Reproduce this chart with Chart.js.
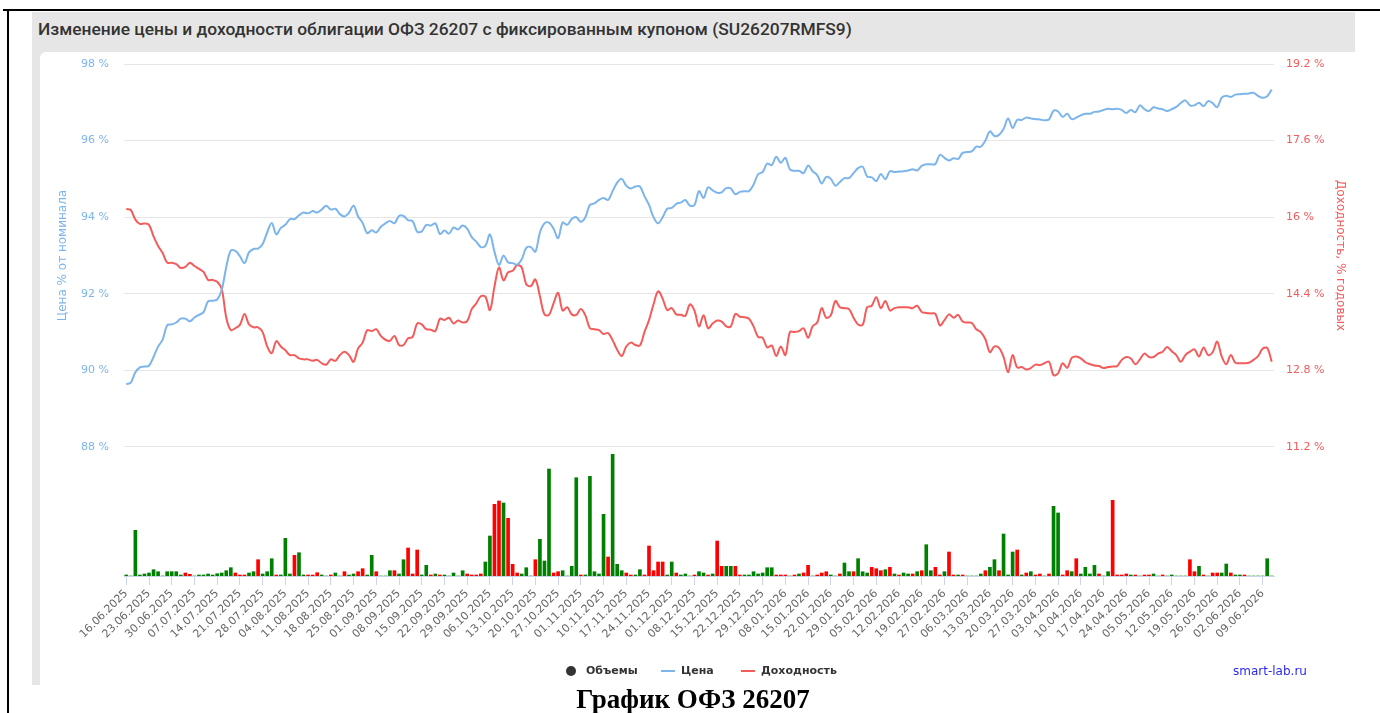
<!DOCTYPE html>
<html>
<head>
<meta charset="utf-8">
<script src="https://cdn.jsdelivr.net/npm/chart.js@4.4.1/dist/chart.umd.min.js"></script>
<style>
html,body{margin:0;padding:0;background:#fff;}
body{width:1380px;height:713px;overflow:hidden;position:relative;font-family:'DejaVu Sans',sans-serif;}
.abs{position:absolute;}
#bt{left:3px;top:9px;width:1377px;height:2px;background:#000;}
#bl{left:7px;top:9px;width:2px;height:704px;background:#000;}
#panel{left:32px;top:12px;width:1323px;height:673px;background:#e6e6e6;}
#title{left:38px;top:11px;height:36px;line-height:36px;font-family:Roboto,sans-serif;font-weight:500;font-size:17.4px;color:#333;white-space:nowrap;}
#white{left:40px;top:52px;width:1340px;height:633px;background:#fff;border-top-left-radius:6px;}
#wrap{left:40px;top:52px;width:1340px;height:633px;}
.lg{top:663px;font-size:11px;font-weight:bold;color:#333;line-height:16px;white-space:nowrap;}
#caption{left:0;width:1386px;top:684px;text-align:center;font-family:'Liberation Serif',serif;font-weight:bold;font-size:27px;line-height:30px;color:#000;white-space:nowrap;}
</style>
</head>
<body>
<div id="bt" class="abs"></div>
<div id="bl" class="abs"></div>
<div id="panel" class="abs"></div>
<div id="title" class="abs">Изменение цены и доходности облигации ОФЗ 26207 с фиксированным купоном (SU26207RMFS9)</div>
<div id="white" class="abs"></div>
<div id="wrap" class="abs"><canvas id="c" width="1340" height="633"></canvas></div>
<div class="abs" style="left:566px;top:666px;width:10px;height:10px;border-radius:50%;background:#333;"></div>
<div class="abs lg" style="left:586px;">Объемы</div>
<div class="abs" style="left:661px;top:670px;width:14px;height:2px;background:#7cb5ec;"></div>
<div class="abs lg" style="left:681px;">Цена</div>
<div class="abs" style="left:741px;top:670px;width:14px;height:2px;background:#f45b5b;"></div>
<div class="abs lg" style="left:761px;">Доходность</div>
<div class="abs lg" style="left:1233px;font-weight:normal;font-size:12px;color:#2a2af0;">smart-lab.ru</div>
<div id="caption" class="abs">График ОФЗ 26207</div>
<script>
// ---- data ----
const tickLabels = ['16.06.2025','23.06.2025','30.06.2025','07.07.2025','14.07.2025','21.07.2025','28.07.2025','04.08.2025','11.08.2025','18.08.2025','25.08.2025','01.09.2025','08.09.2025','15.09.2025','22.09.2025','29.09.2025','06.10.2025','13.10.2025','20.10.2025','27.10.2025','01.11.2025','10.11.2025','17.11.2025','24.11.2025','01.12.2025','08.12.2025','15.12.2025','22.12.2025','29.12.2025','08.01.2026','15.01.2026','22.01.2026','29.01.2026','05.02.2026','12.02.2026','19.02.2026','27.02.2026','06.03.2026','13.03.2026','20.03.2026','27.03.2026','03.04.2026','10.04.2026','17.04.2026','24.04.2026','05.05.2026','12.05.2026','19.05.2026','26.05.2026','02.06.2026','09.06.2026'];

const price = [
89.64,89.68,89.95,90.08,90.10,90.12,90.35,90.62,90.80,91.18,
91.20,91.25,91.35,91.35,91.28,91.38,91.45,91.52,91.80,91.82,
91.85,92.10,92.70,93.13,93.12,92.98,92.80,93.08,93.17,93.18,
93.30,93.60,93.85,93.55,93.72,93.80,93.95,93.95,94.05,94.12,
94.10,94.16,94.12,94.20,94.30,94.20,94.22,94.08,94.02,94.12,
94.30,94.02,93.85,93.58,93.66,93.60,93.75,93.84,93.90,93.84,
94.03,94.03,93.92,93.90,93.62,93.63,93.80,93.78,93.84,93.56,
93.65,93.57,93.73,93.68,93.78,93.70,93.48,93.36,93.22,93.25,
93.55,93.10,92.75,93.00,92.82,92.80,92.76,92.90,93.20,93.22,
93.10,93.60,93.84,93.86,93.70,93.45,93.86,93.80,93.95,94.00,
93.88,94.00,94.32,94.36,94.45,94.50,94.45,94.68,94.90,95.00,
94.82,94.75,94.80,94.80,94.55,94.32,94.00,93.84,94.00,94.22,
94.24,94.35,94.38,94.45,94.30,94.32,94.68,94.50,94.78,94.70,
94.64,94.65,94.76,94.75,94.60,94.66,94.68,94.68,94.85,95.12,
95.18,95.40,95.36,95.58,95.42,95.55,95.25,95.21,95.21,95.15,
95.35,95.20,95.10,94.88,95.05,95.00,94.82,94.92,95.02,95.02,
95.15,95.28,95.32,95.06,95.04,94.94,95.13,94.99,95.20,95.18,
95.19,95.20,95.22,95.25,95.22,95.34,95.38,95.38,95.39,95.63,
95.55,95.48,95.54,95.52,95.68,95.70,95.72,95.84,95.84,96.00,
96.24,96.12,96.15,96.30,96.58,96.33,96.54,96.54,96.60,96.58,
96.56,96.55,96.53,96.55,96.78,96.76,96.62,96.70,96.56,96.60,
96.66,96.70,96.70,96.75,96.76,96.80,96.83,96.82,96.83,96.80,
96.72,96.80,96.74,96.92,96.82,96.77,96.87,96.84,96.82,96.77,
96.82,96.88,96.98,97.05,96.92,96.92,96.99,96.90,97.03,96.98,
96.87,97.12,97.17,97.14,97.20,97.21,97.22,97.23,97.25,97.17,
97.12,97.16,97.33];

const yieldPct = [
16.17,16.15,15.95,15.86,15.87,15.84,15.60,15.40,15.25,15.05,
15.05,15.02,14.94,14.96,15.05,14.98,14.92,14.86,14.69,14.69,
14.65,14.50,13.90,13.64,13.68,13.75,13.98,13.76,13.70,13.70,
13.60,13.30,13.16,13.41,13.30,13.22,13.12,13.12,13.05,13.03,
13.03,13.00,13.02,12.95,12.92,13.03,13.00,13.12,13.19,13.12,
12.98,13.26,13.38,13.64,13.62,13.66,13.52,13.44,13.42,13.52,
13.33,13.33,13.47,13.50,13.78,13.76,13.66,13.65,13.62,13.88,
13.85,13.90,13.78,13.84,13.80,13.83,14.08,14.20,14.35,14.34,
14.06,14.55,14.95,14.68,14.85,14.88,15.00,14.95,14.60,14.56,
14.70,14.35,13.97,13.96,14.20,14.42,14.05,14.12,13.97,13.96,
14.08,13.95,13.68,13.66,13.64,13.56,13.58,13.43,13.23,13.10,
13.30,13.38,13.33,13.32,13.60,13.85,14.18,14.45,14.30,14.06,
14.10,13.97,13.96,13.94,14.18,14.05,13.72,13.95,13.68,13.78,
13.84,13.82,13.72,13.72,13.98,13.92,13.91,13.88,13.72,13.50,
13.48,13.28,13.32,13.10,13.30,13.12,13.60,13.60,13.62,13.68,
13.48,13.72,13.80,14.10,13.90,13.95,14.25,14.12,14.10,14.08,
13.90,13.76,13.75,14.12,14.15,14.33,14.10,14.25,14.05,14.10,
14.12,14.12,14.12,14.10,14.15,14.02,14.00,13.99,13.98,13.74,
13.85,13.97,13.90,13.96,13.82,13.80,13.79,13.66,13.60,13.45,
13.18,13.30,13.27,13.08,12.76,13.12,12.86,12.87,12.82,12.85,
12.92,12.91,12.95,12.98,12.70,12.74,12.95,12.85,13.06,13.09,
13.05,12.97,12.93,12.90,12.89,12.85,12.87,12.88,12.89,13.02,
13.08,13.05,12.93,13.03,13.15,13.08,13.08,13.15,13.19,13.29,
13.20,13.12,12.98,13.12,13.19,13.24,13.09,13.28,13.12,13.18,
13.40,13.09,12.93,13.12,12.96,12.95,12.95,12.96,13.02,13.10,
13.25,13.27,12.98];

// volume (relative units)
const volumes = [
1,0,45.7,1,2,3,6.3,4.3,0,4.3,
4.3,4.3,1,3,1.7,0,1,1,2,1,
2.3,3,5.3,8.3,3,1,1,3,4.3,16.3,
2,4.3,17.3,1,1,37.7,2,20.7,23.3,1,
1,1,3.3,1,0,1,3,0,4.3,1,
2,4.3,7.3,1,20.7,4.3,0,0,5.3,5.3,
2,16.3,28,2,26,1,10.7,1,2,1,
1,0,3,0,5.3,2,1,1,2,14,
40,71.7,75,73,57.7,11.7,3,2,8.3,0,
16.3,36.7,15,107,3,4.3,5.3,0,9.7,98.3,
1,1,99.7,4.3,2,61.7,19,121.7,11.7,5.3,
3,1,1,6.3,1,30,5.3,14,14,1,
14,3,1,2,0,1,4.3,3,1,2,
35,9.7,9.7,9.7,9.7,1,1,1,4.3,2,
3,8.3,8.3,1,1,1,0,1,2,3,
10.7,0,1,3,4.3,1,0,2,13,4.3,
4.3,17.3,4.3,3,8.7,7.3,5.3,6.3,8.7,2,
1,3,2,2,4.3,5.3,31.3,5.3,8.7,1,
4.3,24,1,1,1,0,0,0,2,5.3,
8.7,16.3,5.3,42,1,24,26,1,3,4.3,
1,2,0,2,69.7,63,1,5.3,4.3,17.3,
2,8.7,2,10.7,2,0,4.3,75.7,1,1,
2,1,1,0,1,1,2,0,1,0,
1,0,0,0,16.3,4.3,9.7,1,0,3,
3,3,12,3,1,1,1,0,0,0,
0,17.3,0];

// 1 = bar drawn green (price up), -1 = red (price down)
const volumeDir = [
1,0,1,1,1,1,1,1,0,1,
1,1,1,-1,-1,0,1,1,1,1,
1,1,1,1,-1,-1,-1,1,1,-1,
1,1,1,-1,1,1,1,-1,1,1,
-1,-1,-1,1,0,-1,1,0,-1,1,
1,-1,-1,1,1,-1,0,0,1,-1,
1,1,-1,-1,-1,1,1,-1,1,-1,
1,0,1,0,1,-1,-1,-1,-1,1,
1,-1,-1,1,-1,-1,-1,1,1,0,
-1,1,1,1,-1,-1,1,0,1,1,
-1,1,1,1,1,1,-1,1,1,1,
-1,-1,1,1,-1,-1,-1,-1,-1,1,
1,-1,1,1,0,-1,1,1,-1,1,
-1,-1,1,1,-1,-1,1,1,1,1,
1,1,1,-1,-1,-1,0,-1,1,-1,
-1,0,-1,-1,-1,1,0,-1,1,1,
-1,1,1,1,-1,-1,-1,1,-1,1,
-1,1,1,-1,1,-1,1,1,-1,-1,
1,-1,-1,1,-1,0,0,0,1,-1,
1,1,-1,1,1,1,-1,1,-1,1,
-1,-1,0,-1,1,1,-1,-1,1,-1,
1,1,1,1,-1,0,1,-1,-1,-1,
-1,1,-1,0,-1,-1,1,0,-1,0,
1,0,0,0,-1,-1,1,-1,0,-1,
-1,1,1,-1,1,1,-1,0,0,0,
0,1,0];

const priceTicks = [98, 96, 94, 92, 90, 88];
const yieldTicks = [19.2, 17.6, 16, 14.4, 12.8, 11.2];
const labelEvery = 5;

// ---- build ----
const categories = price.map((_, i) => (i % labelEvery === 0 && tickLabels[i / labelEvery]) ? tickLabels[i / labelEvery] : '');
const volColors = volumeDir.map(d => d < 0 ? '#ff0000' : '#008000');

const BLUE = '#7cb5ec', RED = '#f45b5b';
Chart.defaults.font.family = "'DejaVu Sans', sans-serif";

const axisTitles = {
  id: 'axisTitles',
  afterDraw(chart) {
    const ctx = chart.ctx, y = chart.scales.y, y2 = chart.scales.y2;
    const cy = (y.getPixelForValue(priceTicks[0]) + y.getPixelForValue(priceTicks[priceTicks.length - 1])) / 2;
    const cy2 = (y2.getPixelForValue(yieldTicks[0]) + y2.getPixelForValue(yieldTicks[yieldTicks.length - 1])) / 2;
    ctx.save();
    ctx.font = "12px 'DejaVu Sans'";
    ctx.textAlign = 'center';
    ctx.textBaseline = 'middle';
    ctx.fillStyle = BLUE;
    ctx.translate(y.left + 23, cy);
    ctx.rotate(-Math.PI / 2);
    ctx.fillText('Цена % от номинала', 0, 0);
    ctx.restore();
    ctx.save();
    ctx.font = "12px 'DejaVu Sans'";
    ctx.textAlign = 'center';
    ctx.textBaseline = 'middle';
    ctx.fillStyle = RED;
    ctx.translate(y2.right - 40, cy2);
    ctx.rotate(Math.PI / 2);
    ctx.fillText('Доходность, % годовых', 0, 0);
    ctx.restore();
  }
};

new Chart(document.getElementById('c'), {
  data: {
    labels: categories,
    datasets: [
      { type: 'line', label: 'Цена', data: price, yAxisID: 'y', borderColor: BLUE, borderWidth: 2, pointRadius: 0, pointHoverRadius: 0, tension: 0.35, order: 1 },
      { type: 'line', label: 'Доходность', data: yieldPct, yAxisID: 'y2', borderColor: RED, borderWidth: 2, pointRadius: 0, pointHoverRadius: 0, tension: 0.35, order: 2 },
      { type: 'bar', label: 'Объемы', data: volumes, yAxisID: 'yv', backgroundColor: volColors, barThickness: 3, borderWidth: 0, order: 3 }
    ]
  },
  options: {
    responsive: false,
    animation: false,
    devicePixelRatio: 1,
    layout: { padding: { top: 12, left: 0, right: 0, bottom: 0 } },
    plugins: { legend: { display: false }, tooltip: { enabled: false } },
    scales: {
      x: {
        offset: true,
        afterFit: s => { s.height = 109; },
        grid: {
          offset: false, drawOnChartArea: false, drawTicks: true, tickLength: 9,
          color: c => (c.index % labelEvery === 0 ? '#ccd6eb' : 'rgba(0,0,0,0)')
        },
        border: { display: true, color: '#ccd6eb' },
        ticks: { autoSkip: false, minRotation: 45, maxRotation: 45, padding: 2, color: '#666666', font: { size: 11 } }
      },
      y: {
        position: 'left',
        min: 84.63, max: 98,
        afterBuildTicks: s => { s.ticks = priceTicks.map(v => ({ value: v })); },
        afterFit: s => { s.width = 84; },
        grid: { color: '#e6e6e6', drawTicks: true, tickLength: 15, tickColor: 'rgba(0,0,0,0)' },
        border: { display: false },
        ticks: { padding: 0, color: BLUE, font: { size: 11 }, callback: v => v + ' %' }
      },
      y2: {
        position: 'right',
        min: 8.505, max: 19.2,
        afterBuildTicks: s => { s.ticks = yieldTicks.map(v => ({ value: v })); },
        afterFit: s => { s.width = 106; },
        grid: { drawOnChartArea: false, drawTicks: true, tickLength: 12, tickColor: 'rgba(0,0,0,0)' },
        border: { display: false },
        ticks: { padding: 0, color: RED, font: { size: 11 }, callback: v => (Math.round(v * 10) / 10) + ' %' }
      },
      yv: { display: false, min: 0, max: 512 }
    }
  },
  plugins: [axisTitles]
});
</script>
</body>
</html>
